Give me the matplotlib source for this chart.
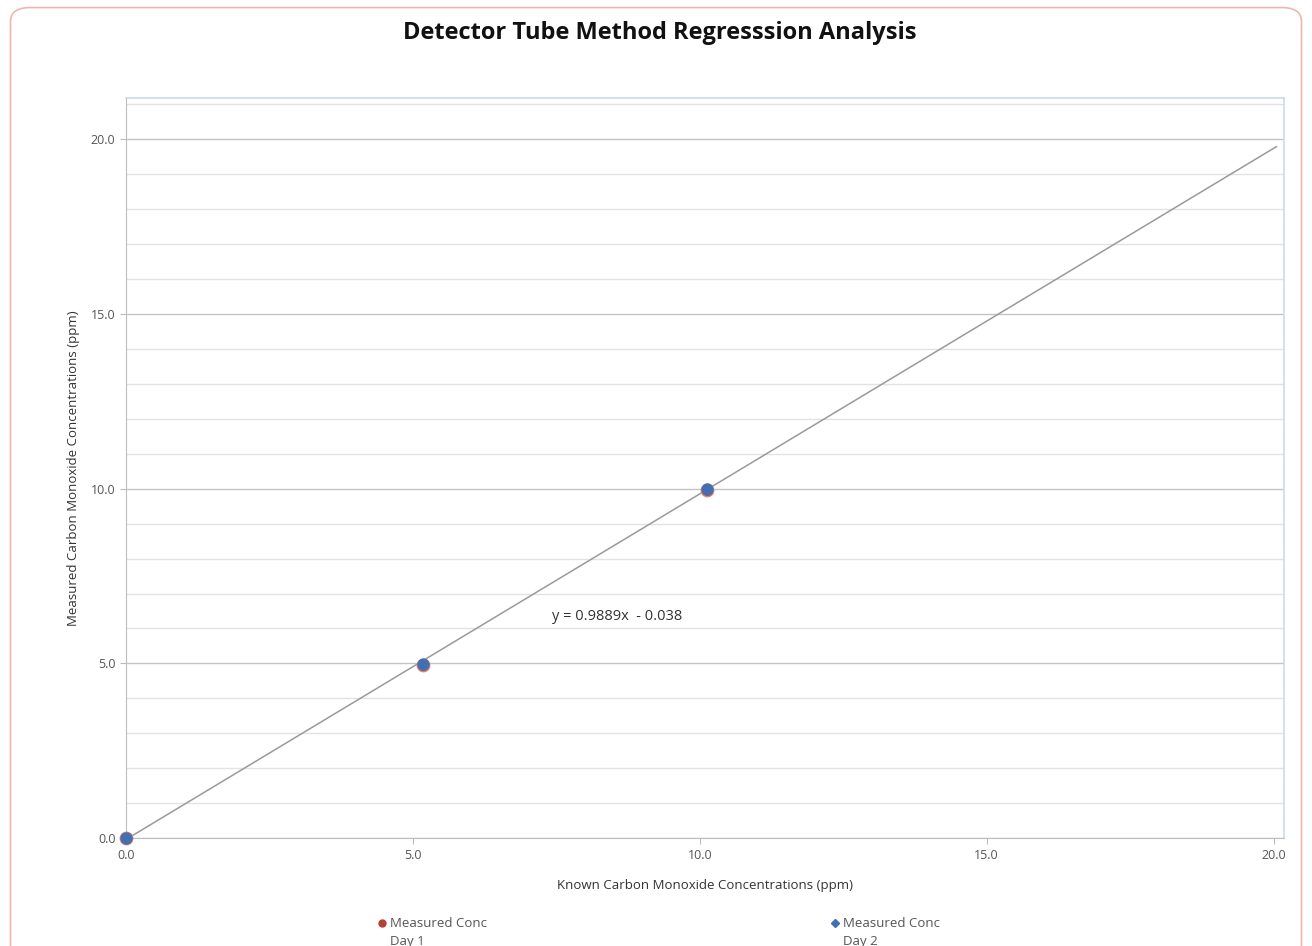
import matplotlib
matplotlib.use('Agg')
import matplotlib.pyplot as plt
from matplotlib.patches import FancyBboxPatch
from matplotlib.transforms import ScaledTranslation
import numpy as np

# data
known = [0.0, 5.17, 10.12]
day1 = [0.0, 4.96, 9.96]
day2 = [0.0, 4.98, 9.98]
slope = 0.9889
intercept = -0.038
fit_x = [0.0, 20.05]
equation = 'y = 0.9889x  - 0.038'
xticks = [0, 5, 10, 15, 20]
yticks = [0, 5, 10, 15, 20]

plt.rcParams['font.family'] = ['Open Sans', 'DejaVu Sans']

fig = plt.figure(figsize=(13.12, 9.46), dpi=100)

# rounded outer frame
frame = FancyBboxPatch((0.008, -0.02), 0.984, 1.012, boxstyle='round,pad=0,rounding_size=0.015',
                       transform=fig.transFigure, facecolor='white', edgecolor='#efb5b0',
                       linewidth=1.2, zorder=-10)
fig.patches.append(frame)

ax = fig.add_axes([0.096, 0.114, 0.883, 0.782])
ax.set_xlim(0, 20.19)
ax.set_ylim(0, 21.17)

ax.set_xticks(xticks)
ax.set_xticklabels(['%.1f' % v for v in xticks])
ax.set_yticks(yticks)
ax.set_yticklabels(['%.1f' % v for v in yticks])
ax.set_yticks(np.arange(0, 22, 1), minor=True)
ax.grid(axis='y', which='major', color='#c4c4c4', linewidth=1.0, zorder=0)
ax.grid(axis='y', which='minor', color='#e2e2e2', linewidth=1.0, zorder=0)
ax.tick_params(axis='both', which='major', labelsize=9, labelcolor='#555555',
               color='#bbbbbb', length=4)
ax.tick_params(axis='y', which='minor', length=0)
ax.tick_params(axis='x', pad=4)
for s in ['left', 'bottom']:
    ax.spines[s].set_color('#bdbdbd')
for s in ['top', 'right']:
    ax.spines[s].set_color('#c9dcea')
    ax.spines[s].set_linewidth(1.2)

fit_y = [slope * v + intercept for v in fit_x]
ax.plot(fit_x, fit_y, color='#9a9a9a', linewidth=1.1, zorder=2)

ax.scatter(known, day1, s=80, color='#b5403a', edgecolor='#d8857a', zorder=3,
           clip_on=False, label='Measured Conc\nDay 1')
ax.scatter(known, day2, s=62, marker='o', color='#3f6fb5', edgecolor='#4f6fa5', zorder=4,
           clip_on=False, label='Measured Conc\nDay 2')

ax.text(7.42, 6.35, equation, fontsize=10.5, color='#333333', va='center', ha='left')

ax.set_xlabel('Known Carbon Monoxide Concentrations (ppm)', fontsize=9.5, color='#333333',
              labelpad=12)
ax.set_ylabel('Measured Carbon Monoxide Concentrations (ppm)', fontsize=9.5, color='#333333',
              labelpad=8)

fig.text(0.503, 0.965, 'Detector Tube Method Regresssion Analysis', fontsize=17,
         fontweight='bold', ha='center', va='center', color='#111111')

h1 = plt.Line2D([], [], marker='o', linestyle='', color='#b5403a', markersize=5)
h2 = plt.Line2D([], [], marker='D', linestyle='', color='#3f6fb5', markersize=4)
leg = fig.legend([h1, h2], ['Measured Conc\nDay 1', 'Measured Conc\nDay 2'],
                 loc='center left', bbox_to_anchor=(0.279, 0.014), ncol=2, frameon=False,
                 fontsize=9.5, handlelength=0.6, handletextpad=0.3, columnspacing=26.1,
                 labelcolor='#555555')
for t in leg.get_texts():
    t.set_linespacing(1.5)
# put the markers beside the first text line
for h in leg.legend_handles:
    h.set_transform(h.get_transform() + ScaledTranslation(0, 7.5 / 72, fig.dpi_scale_trans))

fig.savefig('out.png', dpi=100, facecolor='white')
